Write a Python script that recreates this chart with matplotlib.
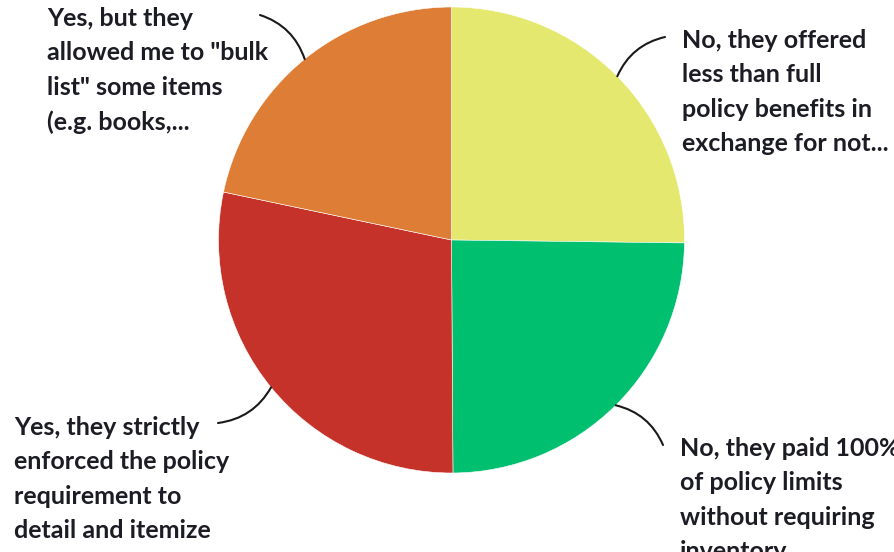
import numpy as np
import matplotlib.pyplot as plt

W, H = 895, 552

labels = [
    "No, they offered\nless than full\npolicy benefits in\nexchange for not...",
    "No, they paid 100%\nof policy limits\nwithout requiring\ninventory",
    "Yes, they strictly\nenforced the policy\nrequirement to\ndetail and itemize",
    "Yes, but they\nallowed me to \"bulk\nlist\" some items\n(e.g. books,...",
]
shares = [25.2, 24.7, 28.4, 21.7]
colors = ["#E5E86E", "#00BF6F", "#C5322A", "#DE7E36"]

# layout in pixels from the top-left corner
center = (451.5, 240)
radius = 233
text_pos = [(682, 29), (680, 437), (14, 416), (47, 7)]
leader_end = [(665, 37), (663, 445), (218, 423), (260, 15)]
leader_rad = [0.25, 0.25, 0.25, -0.25]

fig = plt.figure(figsize=(W / 100, H / 100), dpi=100)
ax = fig.add_axes([0, 0, 1, 1])

wedges, _ = ax.pie(shares, colors=colors, startangle=90, counterclock=False,
                   center=(center[0], H - center[1]), radius=radius,
                   wedgeprops=dict(linewidth=0.4, edgecolor="white"))
ax.set_xlim(0, W)
ax.set_ylim(0, H)
ax.set_aspect("equal")
ax.axis("off")

for w, lab, tp, le, rad in zip(wedges, labels, text_pos, leader_end, leader_rad):
    ang = np.deg2rad((w.theta1 + w.theta2) / 2)
    ex = center[0] + radius * np.cos(ang)
    ey = H - center[1] + radius * np.sin(ang)
    ax.annotate("", xy=(ex, ey), xytext=(le[0], H - le[1]),
                arrowprops=dict(arrowstyle="-", color="#1a1a1a", lw=1.5,
                                shrinkA=0, shrinkB=0,
                                connectionstyle=f"arc3,rad={rad}"))
    ax.text(tp[0], H - tp[1], lab, ha="left", va="top", fontsize=18,
            family="Lato", fontweight="bold", color="#1c1c24",
            linespacing=1.6, clip_on=True)

fig.savefig("out.png", dpi=100)
